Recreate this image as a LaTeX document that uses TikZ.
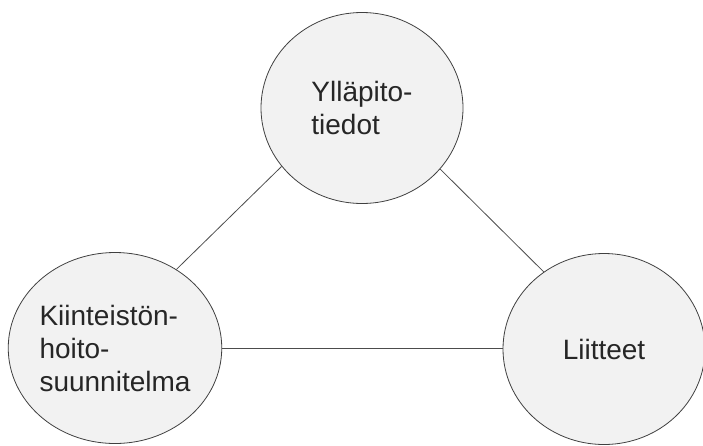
\documentclass[tikz,border=0pt]{standalone}
\usepackage{fontspec}
\setmainfont{Liberation Sans}
\usetikzlibrary{shapes.geometric}
\definecolor{bubblefill}{HTML}{F2F2F2}
\tikzset{bubble/.style={ellipse, draw=black!75, fill=bubblefill, line width=0.8pt,
      minimum width=202pt, minimum height=191pt, inner sep=0pt, align=left,
      text=black!85, font=\fontsize{28}{33}\selectfont}}
\tikzset{link/.style={draw=black!70, line width=0.8pt}}

\begin{document}
\begin{tikzpicture}[x=1pt, y=-1pt]
    \useasboundingbox (0,0) rectangle (703,445);
    \node[bubble] (yllapito) at (362,108) {Ylläpito-\\tiedot};
    \node[bubble] (kiinteisto) at (115,348) {Kiinteistön-\\hoito-\\suunnitelma};
    \node[bubble] (liitteet) at (604,349) {Liitteet};
    \draw[link] (kiinteisto.52) -- (yllapito.216);
    \draw[link] (yllapito.322) -- (liitteet.128);
    \draw[link] (kiinteisto.east) -- (kiinteisto.east -| liitteet.west);
  \end{tikzpicture}
\end{document}
